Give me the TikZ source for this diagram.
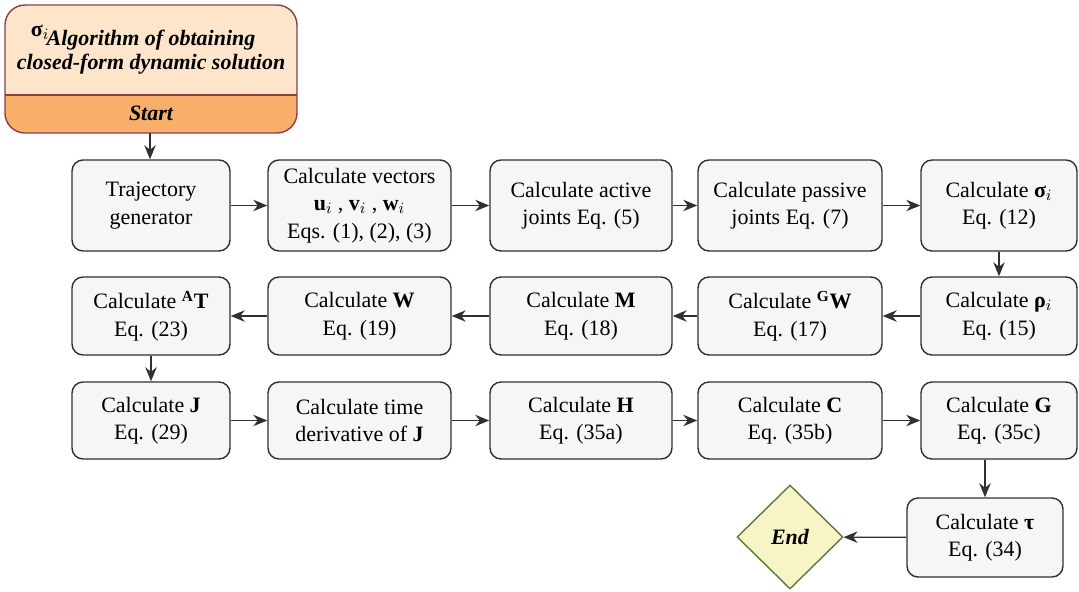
\documentclass[tikz,border=0pt]{standalone}
\usepackage{amsmath}
\usepackage{fontspec}
\setmainfont{Liberation Serif}
\usepackage{tikz}
\usetikzlibrary{shapes.geometric,arrows.meta}
\definecolor{headtop}{HTML}{FDE5CC}
\definecolor{headbot}{HTML}{F8AF6A}
\definecolor{headline}{HTML}{8A3D4C}
\definecolor{boxfill}{HTML}{F6F6F6}
\definecolor{boxline}{HTML}{303030}
\definecolor{endfill}{HTML}{F7F5C6}
\definecolor{endline}{HTML}{5B7A3A}
\tikzset{calc/.style={draw=boxline,fill=boxfill,line width=0.8pt,rounded corners=0.22cm,
        align=center,inner sep=0pt,font=\fontsize{12.5}{15.6}\selectfont},
    endnode/.style={diamond,draw=endline,fill=endfill,line width=0.8pt,aspect=1,inner sep=0pt,
        minimum width=2.12cm,minimum height=2.08cm,font=\fontsize{12.5}{15}\selectfont\bfseries\itshape},
    flow/.style={->,>={Stealth[length=8pt,width=6.5pt]},line width=0.7pt,draw=boxline}
}

\begin{document}
\begin{tikzpicture}
    \useasboundingbox (0,0) rectangle (21.58,-11.82);

    % Header
    \begin{scope}
        \clip[rounded corners=0.4cm] (0.1,-0.1) rectangle (5.94,-2.66);
        \fill[headtop] (0.1,-0.1) rectangle (5.94,-1.9);
        \fill[headbot] (0.1,-1.9) rectangle (5.94,-2.66);
    \end{scope}
    \draw[headline,line width=0.8pt,rounded corners=0.4cm] (0.1,-0.1) rectangle (5.94,-2.66);
    \draw[headline,line width=0.6pt] (0.1,-1.9) -- (5.94,-1.9);
    \node[align=center,font=\fontsize{12.5}{13.5}\selectfont\bfseries\itshape] (title) at (3.02,-1.04)
        {Algorithm of obtaining\\closed-form dynamic solution};
    \node[font=\fontsize{12.5}{15}\selectfont] (sig) at (0.8,-0.64) {\textbf{σ}$_i$};
    \node[font=\fontsize{12.5}{15}\selectfont\bfseries\itshape] (start) at (3.02,-2.27) {Start};
    \coordinate (startbot) at (3.0,-2.66);

    % First row
    \node[calc,minimum width=3.16cm,minimum height=1.82cm] (traj) at (3.02,-4.11) {Trajectory\\generator};
    \node[calc,minimum width=3.66cm,minimum height=1.82cm] (vec) at (7.19,-4.11)
        {Calculate vectors\\$\mathbf{u}_i$ , $\mathbf{v}_i$ , $\mathbf{w}_i$\\Eqs. (1), (2), (3)};
    \node[calc,minimum width=3.64cm,minimum height=1.82cm] (act) at (11.62,-4.11) {Calculate active\\joints Eq. (5)};
    \node[calc,minimum width=3.68cm,minimum height=1.82cm] (pas) at (15.8,-4.11) {Calculate passive\\joints Eq. (7)};
    \node[calc,minimum width=3.12cm,minimum height=1.82cm] (sigma) at (19.98,-4.11) {Calculate \textbf{σ}$_i$\\Eq. (12)};

    % Second row
    \node[calc,minimum width=3.12cm,minimum height=1.56cm] (rho) at (19.98,-6.32) {Calculate \textbf{ρ}$_i$\\Eq. (15)};
    \node[calc,minimum width=3.68cm,minimum height=1.56cm] (gw) at (15.8,-6.32) {Calculate $^{\mathbf{G}}\mathbf{W}$\\Eq. (17)};
    \node[calc,minimum width=3.64cm,minimum height=1.56cm] (m) at (11.62,-6.32) {Calculate \textbf{M}\\Eq. (18)};
    \node[calc,minimum width=3.66cm,minimum height=1.56cm] (w) at (7.19,-6.32) {Calculate \textbf{W}\\Eq. (19)};
    \node[calc,minimum width=3.16cm,minimum height=1.56cm] (at) at (3.02,-6.32) {Calculate $^{\mathbf{A}}\mathbf{T}$\\Eq. (23)};

    % Third row
    \node[calc,minimum width=3.16cm,minimum height=1.54cm] (j) at (3.02,-8.41) {Calculate \textbf{J}\\Eq. (29)};
    \node[calc,minimum width=3.66cm,minimum height=1.54cm] (jdot) at (7.19,-8.41) {Calculate time\\derivative of \textbf{J}};
    \node[calc,minimum width=3.64cm,minimum height=1.54cm] (h) at (11.62,-8.41) {Calculate \textbf{H}\\Eq. (35a)};
    \node[calc,minimum width=3.68cm,minimum height=1.54cm] (c) at (15.8,-8.41) {Calculate \textbf{C}\\Eq. (35b)};
    \node[calc,minimum width=3.12cm,minimum height=1.54cm] (g) at (19.98,-8.41) {Calculate \textbf{G}\\Eq. (35c)};

    % Last row
    \node[calc,minimum width=3.12cm,minimum height=1.58cm] (tau) at (19.7,-10.75) {Calculate \textbf{τ}\\Eq. (34)};
    \node[endnode] (end) at (15.8,-10.74) {End};

    % Arrows
    \draw[flow] (startbot) -- (startbot |- traj.north);
    \draw[flow] (traj) -- (vec);
    \draw[flow] (vec) -- (act);
    \draw[flow] (act) -- (pas);
    \draw[flow] (pas) -- (sigma);
    \draw[flow] (sigma) -- (rho);
    \draw[flow] (rho) -- (gw);
    \draw[flow] (gw) -- (m);
    \draw[flow] (m) -- (w);
    \draw[flow] (w) -- (at);
    \draw[flow] (at) -- (j);
    \draw[flow] (j) -- (jdot);
    \draw[flow] (jdot) -- (h);
    \draw[flow] (h) -- (c);
    \draw[flow] (c) -- (g);
    \draw[flow] (g.south -| tau.north) -- (tau.north);
    \draw[flow] (tau) -- (end);
\end{tikzpicture}
\end{document}
